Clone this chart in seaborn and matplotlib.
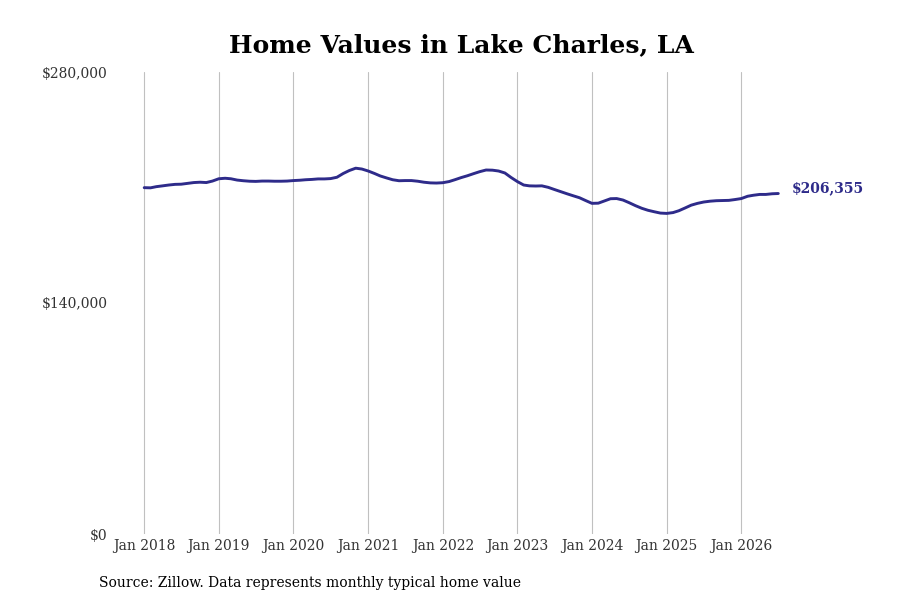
import pandas as pd
import seaborn as sns
import matplotlib.dates as mdates
from matplotlib import pyplot as plt
from matplotlib.ticker import FuncFormatter

# monthly typical home value, Jan 2018 - Jul 2026
dates = pd.date_range("2018-01-01", "2026-07-01", freq="MS")
values = [
    209900, 209800, 210500, 211000, 211500, 211900, 212000, 212500, 213000, 213200, 213000, 213900,
    215300, 215600, 215300, 214500, 214100, 213800, 213700, 213900, 213900, 213800, 213800, 213900,
    214200, 214400, 214700, 214900, 215200, 215200, 215400, 216200, 218500, 220300, 221700, 221200,
    220000, 218500, 217000, 215800, 214700, 214100, 214200, 214200, 213800, 213200, 212800, 212700,
    212900, 213600, 214700, 216000, 217100, 218400, 219600, 220600, 220500, 220000, 218800, 216100,
    213600, 211500, 211000, 210900, 211000, 210100, 208800, 207500, 206200, 205000, 203800, 202100,
    200400, 200500, 201800, 203200, 203300, 202400, 200800, 199000, 197400, 196200, 195300, 194500,
    194300, 194800, 195900, 197600, 199300, 200400, 201200, 201700, 202000, 202100, 202200, 202700,
    203300, 204700, 205300, 205800, 205800, 206200, 206355,
]
line_color = "#2e2b8a"

df = pd.DataFrame({"date": dates, "value": values})

sns.set_style("white")
plt.rcParams["font.family"] = ["DejaVu Serif"]

fig, ax = plt.subplots(figsize=(9, 6), dpi=100)
sns.lineplot(data=df, x="date", y="value", color=line_color, linewidth=2.1, ax=ax)

ax.set_ylim(0, 280000)
ax.set_yticks([0, 140000, 280000])
ax.yaxis.set_major_formatter(FuncFormatter(lambda v, p: f"${v:,.0f}"))
ax.xaxis.set_major_locator(mdates.YearLocator())
ax.xaxis.set_major_formatter(mdates.DateFormatter("%b %Y"))
ax.tick_params(length=0, labelsize=10, colors="#333333")

ax.grid(True, axis="x", color="#c0c0c0", linewidth=0.8)
ax.grid(False, axis="y")
sns.despine(left=True, bottom=True)
ax.set_xlabel("")
ax.set_ylabel("")

# label for latest value
ax.annotate(f"${values[-1]:,}", xy=(dates[-1], values[-1]), xytext=(10, 3.5),
            textcoords="offset points", va="center", ha="left",
            fontsize=10, fontweight="bold", color=line_color)

ax.set_title("Home Values in Lake Charles, LA", fontsize=18, fontweight="bold",
             color="black", pad=14)
fig.text(0.11, 0.022, "Source: Zillow. Data represents monthly typical home value",
         fontsize=10, color="black")

plt.savefig("out.png")
